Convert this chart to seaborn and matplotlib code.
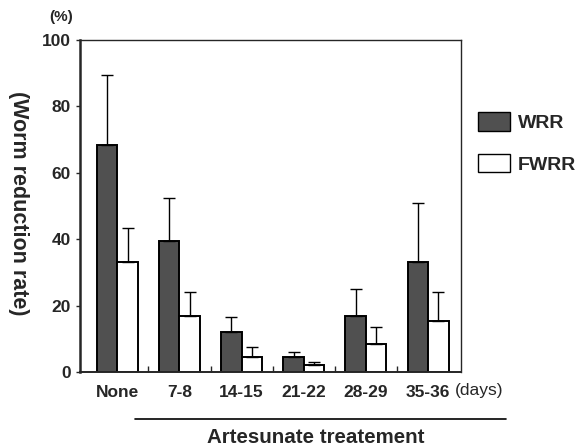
import numpy as np
import pandas as pd
import seaborn as sns
import matplotlib.pyplot as plt
from matplotlib.lines import Line2D
from matplotlib.patches import Patch
from matplotlib.ticker import FixedLocator

# 数据
groups = ["None", "7-8", "14-15", "21-22", "28-29", "35-36"]
wrr = [68.5, 39.5, 12.0, 4.5, 17.0, 33.0]
wrr_err = [21.0, 13.0, 4.5, 1.5, 8.0, 18.0]
fwrr = [33.0, 17.0, 4.5, 2.0, 8.5, 15.5]
fwrr_err = [10.5, 7.0, 3.0, 1.0, 5.0, 8.5]
series = ["WRR", "FWRR"]
colors = {"WRR": "#505050", "FWRR": "white"}

df = pd.DataFrame({
    "group": groups * 2,
    "series": ["WRR"] * len(groups) + ["FWRR"] * len(groups),
    "value": wrr + fwrr,
    "err": wrr_err + fwrr_err,
})

sns.set_style("ticks")
plt.rcParams["font.family"] = ["Liberation Sans", "DejaVu Sans"]
plt.rcParams["font.weight"] = "bold"

fig = plt.figure(figsize=(5.81, 4.48), dpi=100)
ax = fig.add_axes([0.1377, 0.1696, 0.6558, 0.7411])

sns.barplot(data=df, x="group", y="value", hue="series", order=groups,
            hue_order=series, palette=colors, width=0.66, errorbar=None,
            edgecolor="black", linewidth=1.4, legend=False, ax=ax)

# 误差线（仅向上）
for cont, s in zip(ax.containers, series):
    sub = df[df["series"] == s].set_index("group").loc[groups]
    xs = [p.get_x() + p.get_width() / 2 for p in cont.patches]
    ax.errorbar(xs, sub["value"].values,
                yerr=[np.zeros(len(groups)), sub["err"].values],
                fmt="none", ecolor="black", elinewidth=1.0, capsize=4,
                capthick=1.0, zorder=1)

ax.set_xlim(-0.6, 5.53)
ax.set_ylim(0, 100)
ax.set_yticks([0, 20, 40, 60, 80, 100])
ax.tick_params(axis="y", direction="out", length=3, width=1, labelsize=12.5)
ax.tick_params(axis="x", which="major", length=0, labelsize=12.5, pad=9)
ax.xaxis.set_minor_locator(FixedLocator([0.5, 1.5, 2.5, 3.5, 4.5]))
ax.tick_params(axis="x", which="minor", direction="in", length=4, width=1)
for lab in ax.get_xticklabels() + ax.get_yticklabels():
    lab.set_fontweight("bold")
for sp in ax.spines.values():
    sp.set_visible(True)
    sp.set_linewidth(1.0)
ax.spines["left"].set_linewidth(1.8)
ax.spines["bottom"].set_linewidth(1.4)
ax.set_xlabel("")
ax.set_ylabel("")

# 文字
fig.text(0.031, 1 - 203 / 448, "(Worm reduction rate)", rotation=270,
         ha="center", va="center", fontsize=15.5, fontweight="bold")
fig.text(61 / 581, 1 - 17 / 448, "(%)", ha="center", va="center",
         fontsize=11, fontweight="bold")
fig.text(479 / 581, 1 - 391 / 448, "(days)", ha="center", va="center",
         fontsize=12.5, fontweight="normal")
fig.add_artist(Line2D([135 / 581, 506 / 581], [1 - 419 / 448, 1 - 419 / 448],
                      color="black", lw=1.2))
fig.text(316 / 581, 1 - 437 / 448, "Artesunate treatement", ha="center",
         va="center", fontsize=14.8, fontweight="bold")

# 图例
handles = [Patch(facecolor=colors[s], edgecolor="black", linewidth=1.0)
           for s in series]
fig.legend(handles, series, loc="center left",
           bbox_to_anchor=(478 / 581, 1 - 143 / 448), frameon=False,
           borderpad=0, borderaxespad=0,
           handlelength=1.65, handleheight=1.1, labelspacing=1.1,
           handletextpad=0.4, prop={"size": 14, "weight": "bold"})

fig.savefig("out.png", dpi=100)
